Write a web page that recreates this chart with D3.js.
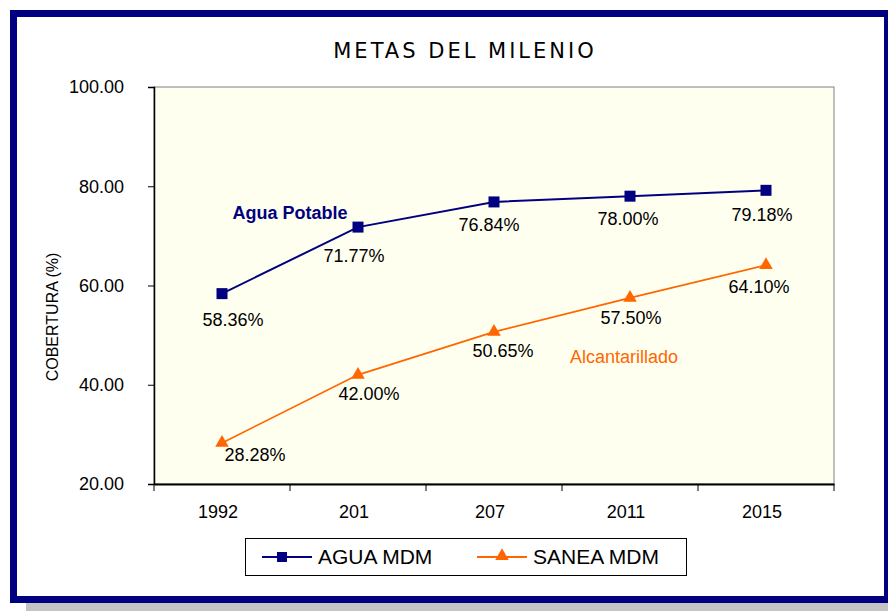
<!DOCTYPE html>
<html><head><meta charset="utf-8">
<script src="https://cdn.jsdelivr.net/npm/d3@7"></script>
<style>body{margin:0;background:#fff}svg{display:block}</style>
</head><body>
<svg id="c" width="888" height="611"></svg>
<script>
const categories = ["1992", "201", "207", "2011", "2015"];
const aguaValues = [58.36, 71.77, 76.84, 78.00, 79.18];
const saneaValues = [28.28, 42.00, 50.65, 57.50, 64.10];
const yTicks = [20, 40, 60, 80, 100];
const seriesNames = ["AGUA MDM", "SANEA MDM"];

const svg = d3.select("#c");
const font = "'Liberation Sans', Arial, sans-serif";
const navy = "#000080", orange = "#FF6600";

// shadow + frame
svg.append("rect").attr("x", 26).attr("y", 603).attr("width", 870).attr("height", 8).attr("fill", "#c4c4c4");
svg.append("rect").attr("x", 13.5).attr("y", 13.5).attr("width", 874).attr("height", 586)
  .attr("fill", "#fff").attr("stroke", navy).attr("stroke-width", 7);

const L = 154, R = 834, T = 87, B = 484;
const x = d3.scaleBand().domain(categories).range([L, R]);
const y = d3.scaleLinear().domain([20, 100]).range([B, T]);

svg.append("rect").attr("x", L).attr("y", T).attr("width", R - L).attr("height", B - T)
  .attr("fill", "#fffff0").attr("stroke", "#808080").attr("stroke-width", 1);

// axes
const gy = svg.append("g").attr("transform", `translate(${L},0)`)
  .call(d3.axisLeft(y).tickValues(yTicks).tickSize(6).tickPadding(24).tickFormat(d3.format(".2f")));
gy.select(".domain").attr("stroke", "#000").attr("stroke-width", 1.5);
gy.selectAll("text").attr("font-family", font).attr("font-size", 18).attr("fill", "#000");

const gx = svg.append("g").attr("transform", `translate(0,${B})`)
  .call(d3.axisBottom(x).tickSize(0));
gx.select(".domain").attr("stroke", "#000").attr("stroke-width", 2);
gx.selectAll("text").attr("font-family", font).attr("font-size", 18).attr("fill", "#000")
  .attr("y", 34).attr("dy", 0).attr("dx", -4);
// boundary ticks
const bounds = categories.map(c => x(c)).concat([R]);
svg.append("g").selectAll("line").data(bounds).join("line")
  .attr("x1", d => d).attr("x2", d => d).attr("y1", B).attr("y2", B + 7)
  .attr("stroke", "#000").attr("stroke-width", 1);

const cx = c => x(c) + x.bandwidth() / 2;

// lines
const line = d3.line().x((d, i) => cx(categories[i])).y(d => y(d));
svg.append("path").datum(aguaValues).attr("d", line).attr("fill", "none").attr("stroke", navy).attr("stroke-width", 2);
svg.append("path").datum(saneaValues).attr("d", line).attr("fill", "none").attr("stroke", orange).attr("stroke-width", 1.7);

svg.append("g").selectAll("rect").data(aguaValues).join("rect")
  .attr("x", (d, i) => cx(categories[i]) - 5.5).attr("y", d => y(d) - 5.5)
  .attr("width", 11).attr("height", 11).attr("fill", navy);
const tri = d3.symbol().type(d3.symbolTriangle).size(80);
svg.append("g").selectAll("path").data(saneaValues).join("path")
  .attr("d", tri).attr("transform", (d, i) => `translate(${cx(categories[i])},${y(d)})`).attr("fill", orange);

// data labels
const aguaOff = [[11, 32], [-4, 35], [-5, 29], [-2, 29], [-4, 31]];
const saneaOff = [[33, 18], [11, 25], [9, 25], [1, 26], [-7, 28]];
svg.append("g").selectAll("text").data(aguaValues).join("text")
  .attr("x", (d, i) => cx(categories[i]) + aguaOff[i][0]).attr("y", (d, i) => y(d) + aguaOff[i][1])
  .attr("text-anchor", "middle").attr("font-family", font).attr("font-size", 18)
  .text(d => d.toFixed(2) + "%");
svg.append("g").selectAll("text").data(saneaValues).join("text")
  .attr("x", (d, i) => cx(categories[i]) + saneaOff[i][0]).attr("y", (d, i) => y(d) + saneaOff[i][1])
  .attr("text-anchor", "middle").attr("font-family", font).attr("font-size", 18)
  .text(d => d.toFixed(2) + "%");

// annotations
svg.append("text").attr("x", 290).attr("y", 219).attr("text-anchor", "middle")
  .attr("font-family", font).attr("font-size", 18).attr("font-weight", "bold").attr("fill", navy).text("Agua Potable");
svg.append("text").attr("x", 624).attr("y", 363).attr("text-anchor", "middle")
  .attr("font-family", font).attr("font-size", 18).attr("fill", orange).text("Alcantarillado");

// title
svg.append("text").attr("x", 465).attr("y", 58).attr("text-anchor", "middle")
  .attr("font-family", "'DejaVu Sans', sans-serif").attr("font-size", 21)
  .attr("letter-spacing", 3).text("METAS DEL MILENIO");

// y title
svg.append("text").attr("transform", "translate(58,317) rotate(-90)").attr("text-anchor", "middle")
  .attr("font-family", font).attr("font-size", 16).text("COBERTURA (%)");

// legend
svg.append("rect").attr("x", 245.5).attr("y", 538.5).attr("width", 441).attr("height", 37)
  .attr("fill", "#fff").attr("stroke", "#000").attr("stroke-width", 1);
const lg = [{n: seriesNames[0], c: navy, x: 262}, {n: seriesNames[1], c: orange, x: 477}];
lg.forEach((d, i) => {
  svg.append("line").attr("x1", d.x).attr("x2", d.x + 50).attr("y1", 557).attr("y2", 557).attr("stroke", d.c).attr("stroke-width", 2);
  if (i === 0) svg.append("rect").attr("x", d.x + 15).attr("y", 552).attr("width", 10).attr("height", 10).attr("fill", d.c);
  else svg.append("path").attr("d", tri).attr("transform", `translate(${d.x + 25},556)`).attr("fill", d.c);
  svg.append("text").attr("x", d.x + 56).attr("y", 564).attr("font-family", font).attr("font-size", 21).text(d.n);
});
</script>
</body></html>
